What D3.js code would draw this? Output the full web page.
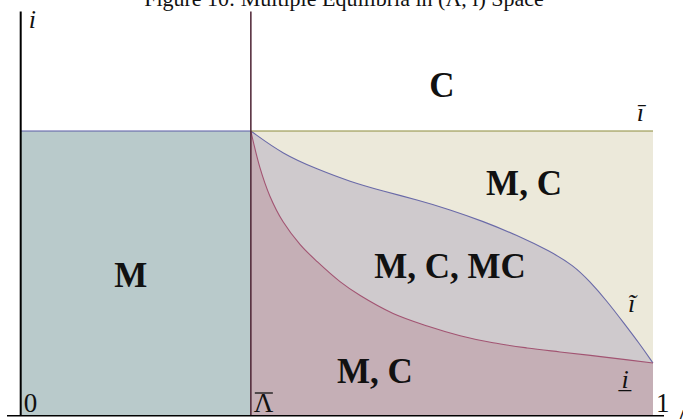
<!DOCTYPE html>
<html><head><meta charset="utf-8">
<script src="https://cdn.jsdelivr.net/npm/d3@7"></script>
<style>html,body{margin:0;padding:0;background:#fff;overflow:hidden}</style>
</head><body>
<svg id="chart" width="683" height="419"></svg>
<script>
// ---- data (Λ on x, i on y; ī normalised to 1) ----
const lambdaBar = 0.364;
const iBar = 1.0;
const iTop = 1.42;
const upperLambda = [0.364,0.415,0.469,0.521,0.573,0.627,0.679,0.731,0.785,0.837,0.874,0.900,0.927,0.953,0.979,1.0];
const upperI      = [1.000,0.918,0.866,0.822,0.789,0.758,0.724,0.683,0.634,0.578,0.528,0.472,0.403,0.328,0.252,0.185];
const lowerLambda = [0.364,0.378,0.394,0.415,0.442,0.469,0.505,0.537,0.589,0.643,0.695,0.747,0.801,0.853,0.927,1.0];
const lowerI      = [1.000,0.874,0.772,0.681,0.601,0.541,0.471,0.422,0.359,0.315,0.281,0.256,0.238,0.224,0.205,0.185];
const regionLabels = ["C","M, C","M, C, MC","M","M, C"];
const regionLambda = [0.666,0.796,0.679,0.174,0.560];
const regionI      = [1.119,0.775,0.484,0.452,0.115];
const tickValues = [0, lambdaBar, 1];
const tickLabels = ["0","\u039B","1"];
const tickBar    = [false, true, false];
const titleText = "Figure 10: Multiple Equilibria in (\u039B, i) Space";

// ---- drawing ----
const svg = d3.select("#chart");
const x = d3.scaleLinear().domain([0,1]).range([20.7,653]);
const y = d3.scaleLinear().domain([0,1]).range([415.7,131]);
const serif = "'Liberation Serif','Times New Roman',serif";

const upper = upperLambda.map((l,k)=>[l,upperI[k]]);
const lower = lowerLambda.map((l,k)=>[l,lowerI[k]]);
const curveU = d3.curveBasis;
const curveL = d3.curveCatmullRom.alpha(0.5);

// left region M
svg.append("rect").attr("x",x(0)).attr("y",y(iBar)).attr("width",x(lambdaBar)-x(0)).attr("height",y(0)-y(iBar)).attr("fill","#b9cacb");
// right beige
svg.append("rect").attr("x",x(lambdaBar)).attr("y",y(iBar)).attr("width",x(1)-x(lambdaBar)).attr("height",y(0)-y(iBar)).attr("fill","#ece9da");
// areas
const areaU = d3.area().x(d=>x(d[0])).y0(y(0)).y1(d=>y(d[1])).curve(curveU);
const areaL = d3.area().x(d=>x(d[0])).y0(y(0)).y1(d=>y(d[1])).curve(curveL);
svg.append("path").datum(upper).attr("d",areaU).attr("fill","#cfcacd");
svg.append("path").datum(lower).attr("d",areaL).attr("fill","#c5afb6");
// curves
svg.append("path").datum(upper).attr("d",d3.line().x(d=>x(d[0])).y(d=>y(d[1])).curve(curveU))
  .attr("fill","none").attr("stroke","#6a6aa8").attr("stroke-width",1.1);
svg.append("path").datum(lower).attr("d",d3.line().x(d=>x(d[0])).y(d=>y(d[1])).curve(curveL))
  .attr("fill","none").attr("stroke","#a25472").attr("stroke-width",1.1);
// ī line
svg.append("line").attr("x1",x(0)).attr("x2",x(lambdaBar)).attr("y1",y(iBar)).attr("y2",y(iBar)).attr("stroke","#5b5ba5").attr("stroke-width",1.2);
svg.append("line").attr("x1",x(lambdaBar)).attr("x2",x(1)).attr("y1",y(iBar)).attr("y2",y(iBar)).attr("stroke","#8b8b3a").attr("stroke-width",1.2);
// Λ̄ vertical
svg.append("line").attr("x1",x(lambdaBar)).attr("x2",x(lambdaBar)).attr("y1",y(iTop)).attr("y2",y(0)).attr("stroke","#4d2233").attr("stroke-width",1.5);
// axes
svg.append("line").attr("x1",x(0)).attr("x2",x(0)).attr("y1",y(iTop)).attr("y2",y(0)).attr("stroke","#000").attr("stroke-width",2);
svg.append("line").attr("x1",7).attr("x2",664).attr("y1",y(0)).attr("y2",y(0)).attr("stroke","#000").attr("stroke-width",1.6);

// title (clipped at top as in the original)
svg.append("text").attr("x",344).attr("y",6).attr("text-anchor","middle")
  .attr("font-family",serif).attr("font-size",22).attr("fill","#111").text(titleText);

// region labels
svg.selectAll("text.region").data(regionLabels).join("text").attr("class","region")
  .attr("x",(d,k)=>x(regionLambda[k])).attr("y",(d,k)=>y(regionI[k]))
  .attr("text-anchor","middle").attr("font-family",serif).attr("font-weight","bold")
  .attr("font-size",35).attr("fill","#111").text(d=>d);

// tick labels
const ticks = svg.selectAll("text.tick").data(tickLabels).join("text").attr("class","tick")
  .attr("x",(d,k)=>x(tickValues[k])+3).attr("y",412)
  .attr("font-family",serif).attr("font-size",27).attr("fill","#111").text(d=>d);
ticks.each(function(d,k){
  if(!tickBar[k]) return;
  const b = this.getBBox();
  svg.append("line").attr("x1",b.x+1).attr("x2",b.x+b.width-1)
    .attr("y1",b.y+5).attr("y2",b.y+5).attr("stroke","#111").attr("stroke-width",1.3);
});

// axis name labels
svg.append("text").attr("x",x(0)+8).attr("y",28).attr("font-family",serif).attr("font-style","italic").attr("font-size",26).attr("fill","#111").text("i");
svg.append("text").attr("x",675).attr("y",427).attr("font-family",serif).attr("font-size",26).attr("fill","#111").text("\u039B");

// curve labels
const curveLabels = ["\u012B","\u0129","i\u0332"];
const curveLabelLambda = [0.980,0.966,0.956];
const curveLabelI = [1.035,0.365,0.097];
svg.selectAll("text.clab").data(curveLabels).join("text").attr("class","clab")
  .attr("x",(d,k)=>x(curveLabelLambda[k])).attr("y",(d,k)=>y(curveLabelI[k]))
  .attr("text-anchor","middle").attr("font-family",serif).attr("font-style","italic")
  .attr("font-size",26).attr("fill","#111").text(d=>d);
</script>
</body></html>
